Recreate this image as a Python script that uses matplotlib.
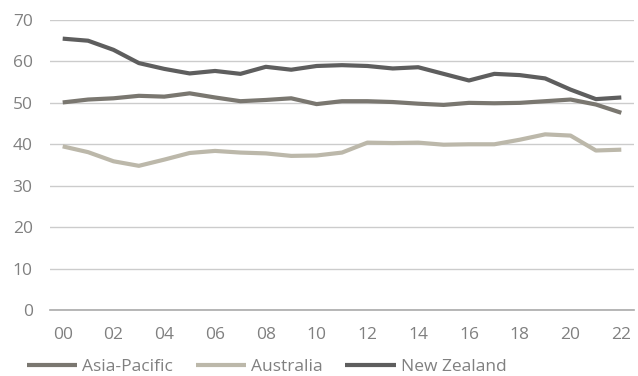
import matplotlib.pyplot as plt

years = list(range(0, 23))
year_labels = [f"{y:02d}" for y in years]

asia_pacific = [50.1, 50.8, 51.1, 51.7, 51.5, 52.3, 51.3, 50.4, 50.7, 51.1, 49.7, 50.4,
                50.4, 50.2, 49.8, 49.5, 50.0, 49.9, 50.0, 50.4, 50.8, 49.6, 47.6]
australia = [39.5, 38.1, 35.9, 34.8, 36.3, 37.9, 38.4, 38.0, 37.8, 37.2, 37.3, 38.0,
             40.4, 40.3, 40.4, 39.9, 40.0, 40.0, 41.1, 42.4, 42.1, 38.5, 38.7]
new_zealand = [65.5, 65.0, 62.8, 59.6, 58.2, 57.1, 57.7, 57.0, 58.7, 58.0, 58.9, 59.1,
               58.9, 58.3, 58.6, 57.0, 55.4, 57.0, 56.7, 55.9, 53.2, 50.9, 51.3]

plt.rcParams['font.family'] = ['Open Sans', 'DejaVu Sans']
TEXT = '#808080'

fig = plt.figure(figsize=(6.38, 3.76), dpi=100)
ax = fig.add_axes([50 / 638, 1 - 310 / 376, 584 / 638, 290 / 376])

ax.plot(years, asia_pacific, color='#7a7770', lw=3, label='Asia-Pacific', solid_capstyle='butt')
ax.plot(years, australia, color='#bcb8aa', lw=3, label='Australia', solid_capstyle='butt')
ax.plot(years, new_zealand, color='#5e5e5e', lw=3, label='New Zealand', solid_capstyle='butt')

ax.set_xlim(-0.5, 22.5)
ax.set_ylim(0, 70)
ax.set_yticks(range(0, 71, 10))
ax.set_xticks(years[::2])
ax.set_xticklabels(year_labels[::2])
ax.grid(axis='y', color='#cccccc', lw=1)
ax.set_axisbelow(True)
for s in ['top', 'right', 'left']:
    ax.spines[s].set_visible(False)
ax.spines['bottom'].set_color('#aaaaaa')
ax.spines['bottom'].set_linewidth(1.2)
ax.tick_params(length=0, labelsize=12.5, colors=TEXT)
ax.tick_params(axis='x', pad=12)
ax.tick_params(axis='y', pad=12.5)

leg = ax.legend(loc='center left', bbox_to_anchor=(-0.04, -0.197), ncol=3, frameon=False,
                fontsize=12.5, handlelength=2.9, handletextpad=0.3, columnspacing=1.3,
                borderaxespad=0, borderpad=0)
for t in leg.get_texts():
    t.set_color(TEXT)

fig.savefig('out.png', dpi=100)
